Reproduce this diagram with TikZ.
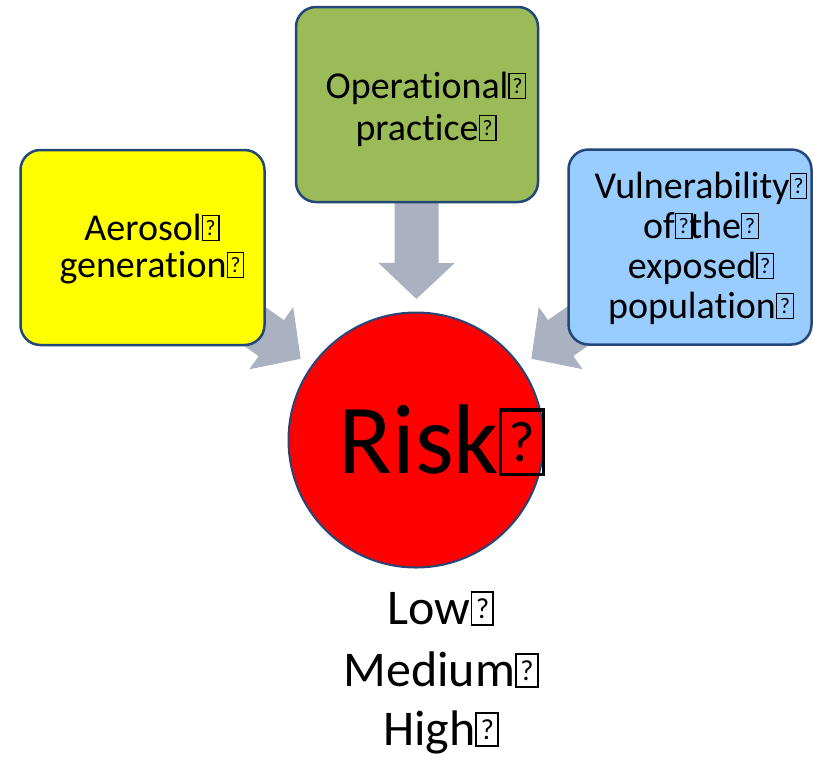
\documentclass[tikz,border=0pt]{standalone}
\usepackage{fontspec}
\usepackage{graphicx}
\setmainfont{Carlito}[Ligatures={NoCommon,NoRequired,NoContextual}]
\usetikzlibrary{arrows.meta,backgrounds}

\definecolor{edge}{HTML}{24477A}
\definecolor{flowgrey}{HTML}{AAB1C0}
\definecolor{leafgreen}{HTML}{9BBB59}
\definecolor{skyblue}{HTML}{99CCFF}
\definecolor{brightyellow}{HTML}{FFFF00}
\definecolor{brightred}{HTML}{FF0000}

% placeholder glyph: a framed question mark
\newcommand\nog{\begingroup\fboxsep=0pt\fboxrule=0.035em\fbox{\vbox to 0.62em{\vss\hbox to 0.4em{\hss\scalebox{0.58}{?}\hss}\vss}}\endgroup}
% keep t and i as separate letters
\newcommand\tI{t\kern0pt i}

\tikzset{
  panel/.style={draw=edge, line width=2.5pt, rounded corners=20pt, inner sep=0pt},
  line/.style={anchor=base, inner sep=0pt, text=black},
  flow/.style={draw=flowgrey, line width=44pt,
    -{Triangle[width=74pt,length=36pt]}, shorten >=12.5pt},
}

\begin{document}
\begin{tikzpicture}[x=1pt,y=-1pt]
\useasboundingbox (0,0) rectangle (813,756);

% factor boxes
\node[panel, fill=leafgreen, minimum width=242pt, minimum height=195pt] (practice) at (417,104.5) {};
\node[panel, fill=brightyellow, minimum width=244pt, minimum height=195pt] (aerosol) at (142.5,247.5) {};
\node[panel, fill=skyblue, minimum width=243pt, minimum height=195pt] (vuln) at (690,247) {};

% central risk disc
\node[circle, draw=edge, line width=2pt, fill=brightred, minimum size=255pt, inner sep=0pt] (risk) at (416,440) {};

% block arrows into the disc
\begin{pgfonlayer}{background}
  \draw[flow] (practice.center) -- (risk);
  \draw[flow] (aerosol.center) -- (risk);
  \draw[flow] (vuln.center) -- (risk);
\end{pgfonlayer}

% labels
\begin{scope}[every node/.append style={font=\fontsize{38}{42}\selectfont}]
  \node[line] (p1) at (426,98) {Opera\tI onal\nog};
  \node[line] (p2) at (426,140) {practice\nog};
  \node[line] (a1) at (152,240) {Aerosol\nog};
  \node[line] (a2) at (152,277) {genera\tI on\nog};
  \node[line] (v1) at (701,198) {Vulnerability\nog};
  \node[line] (v2) at (701,238) {of\nog\kern-0.08em the\nog};
  \node[line] (v3) at (701,278) {exposed\nog};
  \node[line] (v4) at (701,318) {popula\tI on\nog};
\end{scope}

\node[line, font=\fontsize{99}{110}\selectfont] (risktxt) at (442,473) {Risk\nog};

\begin{scope}[every node/.append style={font=\fontsize{50}{60}\selectfont}]
  \node[line] (low) at (441,624) {Low\nog};
  \node[line] (med) at (441,686) {Medium\nog};
  \node[line] (high) at (441,745) {High\nog};
\end{scope}
\end{tikzpicture}
\end{document}
